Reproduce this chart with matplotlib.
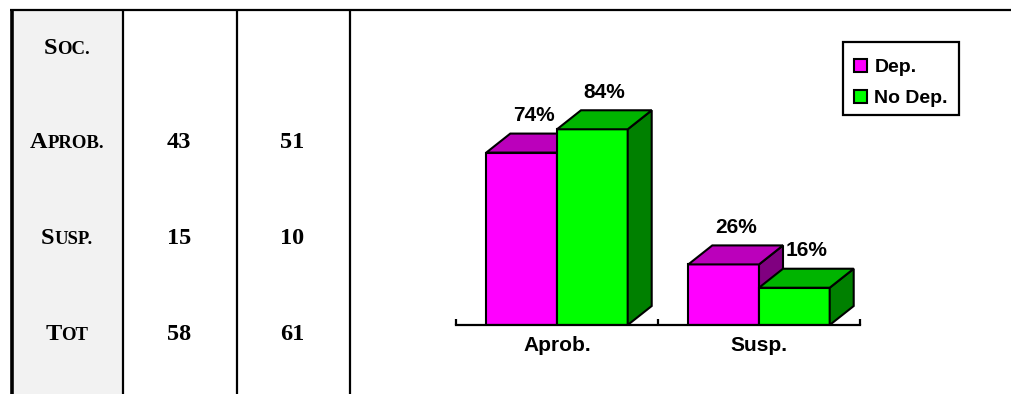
import numpy as np
import matplotlib
matplotlib.use('Agg')
from matplotlib import pyplot as plt
from matplotlib.patches import Polygon, Patch, Rectangle
from matplotlib.lines import Line2D
from matplotlib.offsetbox import TextArea, HPacker, AnnotationBbox

#---- data

row_labels = ['Soc.', 'Aprob.', 'Susp.', 'Tot']
dep_counts = [43, 15, 58]
nodep_counts = [51, 10, 61]

categories = ['Aprob.', 'Susp.']
dep_pct = [74, 26]
nodep_pct = [84, 16]
series_names = ['Dep.', 'No Dep.']

W, H = 1011, 394

#---- colours (front, top, side)

mag = ('#ff00ff', '#bb00bb', '#800080')
grn = ('#00ff00', '#00b400', '#008000')


def px(x, y):
    # figure pixel position measured from the top left corner
    return (x / W, 1 - y / H)


def small_caps(word, big=17.5, small=13.5):
    first = TextArea(word[0], textprops=dict(family='Liberation Serif', weight='bold', size=big))
    rest = TextArea(word[1:].upper(), textprops=dict(family='Liberation Serif', weight='bold', size=small))
    return HPacker(children=[first, rest], align='baseline', pad=0, sep=0)


def draw_table(fig):
    fig.patches.append(Rectangle(px(13, 394), 110 / W, 384 / H, transform=fig.transFigure,
                                 facecolor='#f2f2f2', edgecolor='none', zorder=0))
    lines = [((10, 1011), (10, 10), 1.6),
             ((11.5, 11.5), (10, 394), 2.6),
             ((123, 123), (10, 394), 1.6),
             ((237, 237), (10, 394), 1.6),
             ((350, 350), (10, 394), 1.6)]
    for xs, ys, lw in lines:
        fig.add_artist(Line2D([x / W for x in xs], [1 - y / H for y in ys],
                              transform=fig.transFigure, color='black', lw=lw,
                              solid_capstyle='butt'))

    row_y = [48, 143, 238, 335]
    for lab, y in zip(row_labels, row_y):
        ab = AnnotationBbox(small_caps(lab), px(67, y), xycoords='figure fraction',
                            frameon=False, box_alignment=(0.5, 0.5), pad=0)
        fig.add_artist(ab)
    for i, y in enumerate(row_y[1:]):
        fig.text(*px(179, y), str(dep_counts[i]), ha='center', va='center',
                 family='Liberation Serif', weight='bold', size=17.5)
        fig.text(*px(292, y), str(nodep_counts[i]), ha='center', va='center',
                 family='Liberation Serif', weight='bold', size=17.5)


def bar3d(ax, x0, w, h, cols, dx, dy):
    x1 = x0 + w
    ax.bar(x0, h, width=w, align='edge', color=cols[0], edgecolor='black', lw=1.5, zorder=3)
    top = Polygon([(x0, h), (x1, h), (x1 + dx, h + dy), (x0 + dx, h + dy)], closed=True,
                  facecolor=cols[1], edgecolor='black', lw=1.5, zorder=3, clip_on=False)
    side = Polygon([(x1, 0), (x1 + dx, dy), (x1 + dx, h + dy), (x1, h)], closed=True,
                   facecolor=cols[2], edgecolor='black', lw=1.5, zorder=3, clip_on=False)
    ax.add_patch(side)
    ax.add_patch(top)


#---- Script

if __name__ == '__main__':

    fig = plt.figure(figsize=(W / 100, H / 100), dpi=100)
    draw_table(fig)

    ax_l, ax_b, ax_w, ax_h = 456, 69, 404, 233
    ax = fig.add_axes([ax_l / W, ax_b / H, ax_w / W, ax_h / H])
    ax.set_xlim(-0.5, 1.5)
    ax.set_ylim(0, 100)

    # depth of the bars, given in pixels and turned into data units
    dx = 24 / (ax_w / 2.0)
    dy = 19 / (ax_h / 100.0)
    lab_off = 18 / (ax_h / 100.0)
    bw = 0.35

    lab_font = dict(family='Liberation Sans', weight='bold', size=15)
    x = np.arange(len(categories))
    for i in x:
        bar3d(ax, i - bw, bw, dep_pct[i], mag, dx, dy)
        bar3d(ax, i, bw, nodep_pct[i], grn, dx, dy)
        ax.text(i - bw / 2 + dx / 2, dep_pct[i] + dy + lab_off, '%d%%' % dep_pct[i],
                ha='center', va='center', **lab_font)
        ax.text(i + bw / 2 + dx / 2, nodep_pct[i] + dy + lab_off, '%d%%' % nodep_pct[i],
                ha='center', va='center', **lab_font)

    for s in ['top', 'right', 'left']:
        ax.spines[s].set_visible(False)
    ax.spines['bottom'].set_linewidth(1.6)
    ax.spines['bottom'].set_zorder(4)
    ax.set_yticks([])
    ax.set_xticks([-0.5, 0.5, 1.5])
    ax.set_xticklabels([])
    ax.tick_params(axis='x', which='major', direction='in', length=4, width=1.6)
    ax.set_xticks(x, minor=True)
    ax.set_xticklabels(categories, minor=True, **lab_font)
    ax.tick_params(axis='x', which='minor', length=0, pad=8)
    ax.patch.set_visible(False)

    # legend entries without frame, boxed by a separate rectangle
    handles = [Patch(facecolor=mag[0], edgecolor='black', lw=1.5),
               Patch(facecolor=grn[0], edgecolor='black', lw=1.5)]
    fig.legend(handles, series_names, loc='upper left',
               bbox_to_anchor=px(854, 59), borderaxespad=0,
               prop=dict(family='Liberation Sans', weight='bold', size=14),
               handlelength=0.65, handleheight=0.65, handletextpad=0.4,
               labelspacing=0.7, borderpad=0, frameon=False)
    fig.patches.append(Rectangle(px(843, 115), 116 / W, 73 / H, transform=fig.transFigure,
                                 facecolor='white', edgecolor='black', lw=1.6, zorder=0))

    plt.savefig('out.png', dpi=100)
